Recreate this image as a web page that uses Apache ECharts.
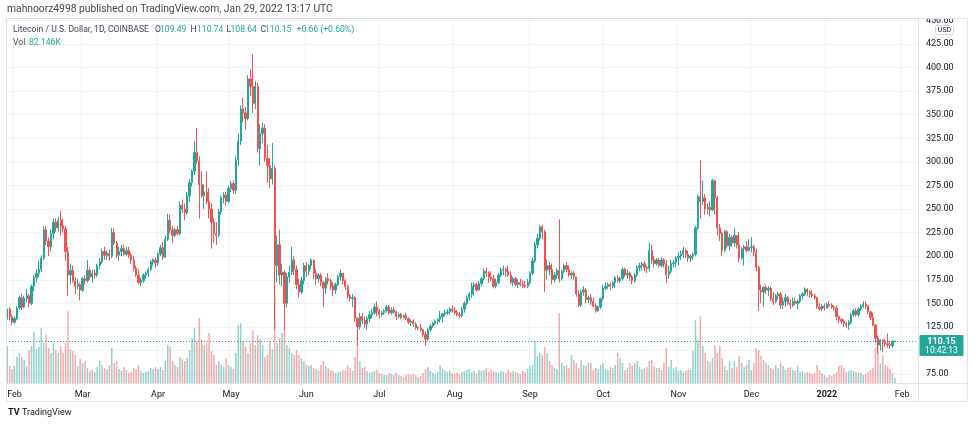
<!DOCTYPE html>
<html><head><meta charset="utf-8">
<script src="https://cdn.jsdelivr.net/npm/echarts@6/dist/echarts.min.js"></script>
<style>html,body{margin:0;padding:0;background:#fff}#c{width:975px;height:427px}</style>
</head><body><div id="c"></div>
<script>
// Daily LTC/USD candles, 2021-01-29 .. 2022-01-29
const open = [133,144,136,
130,134,145,156,146,155,158,150,168,177,182,186,198,228,216,210,224,236,230,238,232,229,205,180,185,174,168,170,
164,176,174,185,178,182,180,190,194,205,201,203,200,225,214,201,205,208,202,206,201,196,187,180,172,174,180,182,186,194,196,
193,202,209,199,218,238,228,222,228,224,254,250,246,264,278,290,310,301,276,264,268,258,250,236,224,222,247,262,265,258,
272,277,270,302,322,356,352,346,388,380,362,380,314,330,336,304,296,282,293,190,212,180,183,150,178,183,196,186,170,162,174,
190,184,190,196,182,176,180,172,166,176,174,168,164,170,178,182,174,168,158,155,156,134,125,136,132,128,134,138,140,146,
142,138,140,142,146,140,143,141,136,138,135,137,134,130,131,128,124,124,122,117,112,122,126,129,131,133,136,139,140,141,144,
142,140,138,137,144,150,156,160,168,170,164,171,176,184,182,178,176,168,172,180,185,186,184,180,172,176,170,172,170,169,168,
172,182,195,212,219,231,226,185,190,186,175,180,185,176,184,190,186,180,182,178,160,148,162,164,154,156,152,147,142,146,
155,166,168,170,168,172,177,174,176,186,180,182,178,174,180,188,190,192,188,187,206,196,192,196,190,196,192,180,184,192,193,
198,200,202,206,202,198,200,202,230,263,258,262,250,252,249,280,262,230,224,206,226,211,220,214,222,212,198,208,210,206,
209,210,204,188,164,162,167,164,166,155,152,158,160,148,152,156,150,148,152,150,152,158,160,165,162,160,158,156,146,144,147,
145,149,148,146,145,136,133,131,129,127,130,138,142,138,144,147,149,147,141,135,127,113,106,111,109,107,106,105,109.49];
const high = [148,146,138,
136,147,158,160,158,165,160,170,180,186,195,201,232,232,220,228,240,240,242,248,240,232,210,192,190,178,176,172,
178,180,196,188,186,186,192,198,208,210,206,207,230,230,216,210,212,212,210,210,204,200,190,186,177,182,184,188,196,198,199,
204,212,215,222,245,244,232,230,232,258,260,256,268,282,292,322,336,306,290,276,290,272,256,240,236,250,264,268,268,275,
280,280,306,330,360,368,358,392,398,414,386,384,340,342,340,318,304,320,296,222,228,192,185,182,190,210,200,190,176,178,193,
194,192,198,196,186,182,182,174,178,182,176,172,172,180,186,182,176,170,160,160,158,136,140,140,136,136,142,144,150,152,
144,142,144,148,148,146,146,142,140,140,138,140,135,133,133,130,126,128,123,120,124,128,130,133,134,142,140,143,144,146,148,
146,143,141,146,152,158,162,172,172,172,174,178,187,188,184,184,180,176,182,188,190,188,190,184,178,178,176,176,174,174,176,
184,198,215,224,233,233,228,196,194,192,183,187,239,186,192,194,190,184,184,178,164,164,168,166,158,160,156,150,148,156,
170,172,172,172,174,179,180,178,188,188,186,184,180,182,190,193,194,195,190,214,212,200,198,198,199,198,196,190,196,196,200,
204,206,210,208,206,202,204,232,266,302,280,266,256,258,282,281,264,234,226,228,228,224,222,230,222,226,210,212,216,218,
220,212,208,190,170,168,170,168,168,162,160,162,162,156,160,158,154,156,156,154,160,162,167,166,164,164,160,157,150,149,150,
151,152,150,148,148,137,134,133,130,132,140,144,145,146,149,152,152,148,142,140,128,116,112,112,112,118,110,111,110.74];
const low = [130,132,127,
128,132,143,143,145,151,146,148,163,172,178,183,196,212,200,205,218,226,226,222,225,195,158,170,172,160,165,153,
162,170,172,175,172,176,178,186,192,196,196,195,198,212,198,195,200,200,200,198,192,184,178,170,168,172,176,178,184,190,188,
190,200,196,198,216,224,214,220,222,222,246,238,244,258,274,286,298,240,262,250,255,240,208,214,212,220,244,256,254,256,
268,266,266,296,318,342,334,344,370,352,356,310,296,320,300,278,272,276,122,172,170,168,122,146,172,180,180,165,156,160,170,
178,180,186,176,170,172,168,146,160,170,164,158,160,168,174,170,164,155,152,146,130,105,122,128,124,122,130,134,138,136,
134,136,138,140,138,138,139,132,134,133,134,132,128,126,125,122,121,120,114,105,110,120,124,127,128,130,130,136,138,138,140,
138,136,134,135,140,148,153,156,158,162,164,168,174,178,172,174,166,166,170,178,180,178,178,170,168,168,166,168,166,166,166,
170,180,193,208,216,218,162,175,180,170,172,176,172,174,182,183,178,176,175,157,146,146,158,150,150,148,146,140,141,144,
153,164,165,164,166,166,172,172,174,178,176,174,170,172,178,184,185,184,182,184,192,188,190,188,188,188,172,176,182,188,188,
190,196,198,198,194,194,196,200,228,240,254,244,244,242,248,244,222,216,200,204,208,206,210,210,208,194,196,190,204,205,
204,200,184,142,150,146,160,158,152,148,150,154,144,144,146,148,144,146,148,144,150,154,158,158,156,156,154,144,142,142,142,
144,146,144,142,132,129,128,125,124,122,128,136,136,136,142,145,144,138,132,126,108,97,100,98,104,103,102,103,108.64];
const close = [144,136,130,
134,145,156,146,155,158,150,168,177,182,186,198,228,216,210,224,236,230,238,232,229,205,180,185,174,168,170,164,
176,174,185,178,182,180,190,194,205,201,203,200,225,214,201,205,208,202,206,201,196,187,180,172,174,180,182,186,194,196,193,
202,209,199,218,238,228,222,228,224,254,250,246,264,278,290,310,301,276,264,268,258,250,236,224,222,247,262,265,258,272,
277,270,302,322,356,352,346,388,380,362,380,314,330,336,304,296,282,293,190,212,180,183,150,178,183,196,186,170,162,174,190,
184,190,196,182,176,180,172,166,176,174,168,164,170,178,182,174,168,158,155,156,134,125,136,132,128,134,138,140,146,142,
138,140,142,146,140,143,141,136,138,135,137,134,130,131,128,124,124,122,117,112,122,126,129,131,133,136,139,140,141,144,142,
140,138,137,144,150,156,160,168,170,164,171,176,184,182,178,176,168,172,180,185,186,184,180,172,176,170,172,170,169,168,172,
182,195,212,219,231,226,185,190,186,175,180,185,176,184,190,186,180,182,178,160,148,162,164,154,156,152,147,142,146,155,
166,168,170,168,172,177,174,176,186,180,182,178,174,180,188,190,192,188,187,206,196,192,196,190,196,192,180,184,192,193,198,
200,202,206,202,198,200,202,230,263,258,262,250,252,249,280,262,230,224,206,226,211,220,214,222,212,198,208,210,206,209,
210,204,188,164,162,167,164,166,155,152,158,160,148,152,156,150,148,152,150,152,158,160,165,162,160,158,156,146,144,147,145,
149,148,146,145,136,133,131,129,127,130,138,142,138,144,147,149,147,141,135,127,113,106,111,109,107,106,105,109.49,110.15];
// volume in thousands of LTC
const volume = [607,279,230,
279,426,492,426,377,279,541,607,836,558,590,902,656,787,574,492,656,541,492,607,492,656,1181,558,525,459,279,394,
328,361,246,197,213,180,262,361,295,246,230,295,574,328,361,230,197,262,213,164,180,246,230,295,197,164,180,197,246,230,262,
230,262,213,361,623,590,361,295,262,426,394,361,410,541,738,902,689,1066,705,623,656,820,525,459,295,361,295,262,410,295,
262,230,492,951,984,689,590,492,656,869,623,787,722,623,426,459,689,558,1509,656,738,820,902,623,574,492,459,541,459,410,361,
295,279,295,246,230,197,295,361,279,246,213,197,164,180,197,213,197,295,246,197,426,853,361,246,262,197,164,180,197,213,
164,148,131,131,164,148,131,164,131,115,98,131,148,131,148,131,98,115,164,230,262,197,164,148,180,295,230,197,180,197,164,
148,164,148,180,197,213,230,180,197,164,213,197,213,246,180,213,197,180,164,197,180,164,213,180,197,180,164,148,197,180,230,
279,295,689,443,492,459,590,492,361,295,246,230,1148,328,279,295,246,459,377,328,246,377,295,279,328,328,213,246,230,295,
328,230,213,262,246,295,492,410,328,213,246,328,279,328,361,262,230,246,262,361,377,279,246,246,213,328,574,262,377,246,262,
197,213,180,197,213,213,525,1033,705,1099,607,492,361,344,410,623,492,607,410,279,213,361,246,361,262,443,328,262,295,377,
213,328,574,541,443,377,328,295,246,230,295,246,328,279,213,246,262,213,197,279,180,197,164,180,164,148,164,295,213,164,131,
98,131,115,148,180,279,295,246,180,197,213,197,180,164,164,131,148,180,213,246,574,738,328,459,295,279,230,164,82.146];
const priceTicks = [75,100,125,150,175,200,225,250,275,300,325,350,375,400,425,450];
const monthAbbr = ['Jan','Feb','Mar','Apr','May','Jun','Jul','Aug','Sep','Oct','Nov','Dec'];

const UP = '#26a69a', DOWN = '#ef5350';
const FONT = 'Roboto';
const dates = [];
for (let t = Date.UTC(2021,0,29); t <= Date.UTC(2022,1,7); t += 864e5) dates.push(new Date(t).toISOString().slice(0,10));
const candle = dates.map((d,i) => i < close.length ? [open[i], close[i], low[i], high[i]] : '-');
const vol = dates.map((d,i) => i < volume.length ? {value: volume[i], itemStyle: {color: close[i] >= open[i] ? 'rgba(38,166,154,0.5)' : 'rgba(239,83,80,0.5)'}} : '-');
const monthStart = (i, v) => v.slice(8) === '01';
const last = close[close.length-1];

const chart = echarts.init(document.getElementById('c'));
chart.setOption({
  animation: false,
  backgroundColor: '#fff',
  grid: {left: 6, right: 57, top: 18, bottom: 44, containLabel: false},
  xAxis: {
    type: 'category', data: dates, boundaryGap: true,
    axisLine: {show: false}, axisTick: {show: false},
    axisLabel: {interval: monthStart, color: '#131722', fontSize: 9, fontFamily: FONT, margin: 7,
      formatter: v => { const m = +v.slice(5,7); return m === 1 ? '{y|' + v.slice(0,4) + '}' : monthAbbr[m-1]; },
      rich: {y: {fontWeight: 'bold', fontSize: 9, fontFamily: FONT, color: '#131722'}}},
    splitLine: {show: true, interval: monthStart, lineStyle: {color: '#f0f3fa', width: 1}}
  },
  yAxis: [{
    type: 'value', position: 'right', min: 65.5, max: 452.6,
    axisLine: {show: false}, axisTick: {show: false, customValues: priceTicks},
    axisLabel: {customValues: priceTicks, formatter: v => v.toFixed(2), color: '#131722', fontSize: 9, fontFamily: FONT, margin: 8},
    splitLine: {show: true, lineStyle: {color: '#f0f3fa', width: 1}}
  }, {
    type: 'value', min: 0, max: 6000, show: false, splitLine: {show: false}
  }],
  series: [{
    type: 'bar', yAxisIndex: 1, data: vol, barWidth: '62%', z: 1
  }, {
    type: 'candlestick', data: candle, barWidth: '72%', z: 3,
    itemStyle: {color: UP, color0: DOWN, borderColor: UP, borderColor0: DOWN, borderWidth: 1},
    markLine: {symbol: 'none', silent: true, label: {show: false},
      lineStyle: {color: UP, type: [1, 2], width: 1}, data: [{yAxis: last}]}
  }]
});

const py = chart.convertToPixel({yAxisIndex: 0}, last);
const G = [];
const txt = (x, y, s, fill, size, weight, align) => G.push({type: 'text', x, y, z: 50, silent: true,
  style: {text: s, fill, font: (weight || 'normal') + ' ' + size + 'px ' + FONT, textAlign: align || 'left', textVerticalAlign: 'middle'}});
// cover the upper half of the clipped top price label
G.push({type: 'rect', z: 44, silent: true, shape: {x: 919, y: 0, width: 56, height: 18}, style: {fill: '#fff'}});
// frame
G.push({type: 'rect', z: 46, silent: true, shape: {x: 6.5, y: 18.5, width: 961, height: 383}, style: {fill: 'none', stroke: '#e0e3eb', lineWidth: 1}});
G.push({type: 'line', z: 46, silent: true, shape: {x1: 918.5, y1: 18, x2: 918.5, y2: 402}, style: {stroke: '#e0e3eb', lineWidth: 1}});
G.push({type: 'line', z: 46, silent: true, shape: {x1: 6, y1: 383.5, x2: 968, y2: 383.5}, style: {stroke: '#e0e3eb', lineWidth: 1}});
// header
txt(7, 9.5, 'mahnoorz4998 published on TradingView.com, Jan 29, 2022 13:17 UTC', '#434651', 10.3);
txt(13, 29.5, 'Litecoin / U.S. Dollar, 1D, COINBASE', '#434651', 8.6);
const ohlc = [['O', 155, open[open.length-1].toFixed(2), 160], ['H', 190.5, high[high.length-1].toFixed(2), 197],
  ['L', 226.5, low[low.length-1].toFixed(2), 230.5], ['C', 260.5, last.toFixed(2), 265]];
ohlc.forEach(([k, kx, v, vx]) => { txt(kx, 29.5, k, '#434651', 8.6); txt(vx, 29.5, v, UP, 8.6); });
const chg = last - open[open.length-1];
txt(296.5, 29.5, '+' + chg.toFixed(2) + ' (+' + (chg / open[open.length-1] * 100).toFixed(2) + '%)', UP, 8.6);
txt(13, 42.5, 'Vol', '#434651', 8.6);
txt(29, 42.5, volume[volume.length-1].toFixed(3) + 'K', UP, 8.6);
// USD badge
G.push({type: 'rect', z: 47, silent: true, shape: {x: 935.5, y: 25.5, width: 18, height: 9, r: 2}, style: {fill: '#fff', stroke: '#d1d4dc', lineWidth: 1}});
txt(944.5, 30, 'USD', '#131722', 7, 'normal', 'center');
// last price badge
G.push({type: 'rect', z: 47, silent: true, shape: {x: 919.5, y: py - 6, width: 44, height: 21, r: 1}, style: {fill: UP}});
txt(941.5, py + 0.5, last.toFixed(2), '#fff', 9, 'bold', 'center');
txt(941.5, py + 9.5, '10:42:13', '#fff', 8.5, 'normal', 'center');
// logo
txt(8, 413, 'TV', '#131722', 9, 'bold');
txt(22, 413, 'TradingView', '#131722', 9);
chart.setOption({graphic: G});
</script>
</body></html>
